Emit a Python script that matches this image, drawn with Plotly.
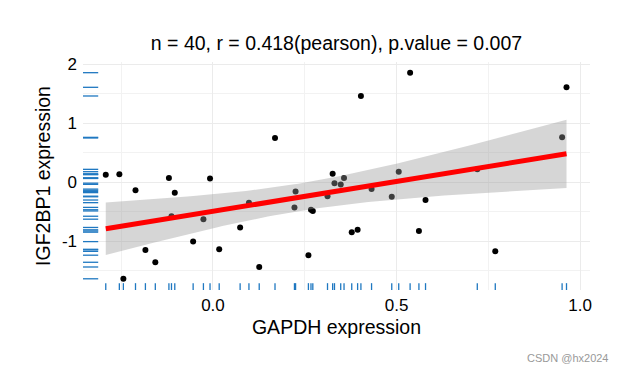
import numpy as np
import plotly.graph_objects as go

# Data
gapdh = [-0.292, -0.255, -0.244, -0.211, -0.184, -0.157, -0.120, -0.113, -0.104, -0.054,
         -0.026, -0.008, 0.017, 0.074, 0.098, 0.126, 0.169, 0.222, 0.225, 0.260,
         0.267, 0.272, 0.312, 0.326, 0.331, 0.348, 0.357, 0.378, 0.394, 0.403,
         0.432, 0.487, 0.506, 0.537, 0.561, 0.579, 0.720, 0.769, 0.951, 0.963]
igf2bp1 = [0.124, 0.130, -1.640, -0.140, -1.150, -1.360, 0.070, -0.580, -0.180, -1.010,
           -0.630, 0.060, -1.140, -0.770, -0.350, -1.440, 0.746, -0.430, -0.160, -1.240,
           -0.470, -0.490, -0.240, 0.140, -0.020, -0.040, 0.068, -0.850, -0.810, 1.458,
           -0.120, -0.250, 0.175, 1.853, -0.830, -0.305, 0.215, -1.175, 0.757, 1.605]
x_ticks = [0.0, 0.5, 1.0]
x_tick_labels = ["0.0", "0.5", "1.0"]
y_ticks = [-1, 0, 1, 2]
y_tick_labels = ["-1", "0", "1", "2"]
title_text = "n = 40, r = 0.418(pearson), p.value = 0.007"
x_title = "GAPDH expression"
y_title = "IGF2BP1 expression"
t_crit = 2.024  # t(0.975, df=38)

x = np.array(gapdh)
y = np.array(igf2bp1)
n = len(x)
slope, intercept = np.polyfit(x, y, 1)
xs = np.linspace(x.min(), x.max(), 80)
ys = intercept + slope * xs
resid = y - (intercept + slope * x)
s = np.sqrt(np.sum(resid ** 2) / (n - 2))
se = s * np.sqrt(1 / n + (xs - x.mean()) ** 2 / np.sum((x - x.mean()) ** 2))
upper = ys + t_crit * se
lower = ys - t_crit * se

FONT = "Liberation Sans, Arial, sans-serif"
RUG = "#1f78c1"

fig = go.Figure()
fig.add_trace(go.Scatter(x=x, y=y, mode="markers",
                         marker=dict(color="black", size=6), showlegend=False))
fig.add_trace(go.Scatter(x=np.concatenate([xs, xs[::-1]]),
                         y=np.concatenate([upper, lower[::-1]]),
                         fill="toself", fillcolor="rgba(153,153,153,0.4)",
                         line=dict(width=0), mode="lines", showlegend=False,
                         hoverinfo="skip"))
fig.add_trace(go.Scatter(x=xs, y=ys, mode="lines",
                         line=dict(color="#ff0000", width=5), showlegend=False))

shapes = []
for yv in igf2bp1:
    shapes.append(dict(type="line", xref="x domain", yref="y", x0=0, x1=0.03,
                       y0=yv, y1=yv, line=dict(color=RUG, width=1.3)))
for xv in gapdh:
    shapes.append(dict(type="line", xref="x", yref="y domain", x0=xv, x1=xv,
                       y0=0, y1=0.03, line=dict(color=RUG, width=1.3)))

# page body has an 8px default margin; figure is sized to fill the rest
OFF = 8
W, H = 625 - OFF, 375 - OFF
PL, PR, PT, PB = 83 - OFF, 590 - OFF, 62 - OFF, 290 - OFF
pw, ph = PR - PL, PB - PT

fig.update_layout(
    width=W, height=H,
    margin=dict(l=PL, r=W - PR, t=PT, b=H - PB),
    paper_bgcolor="white", plot_bgcolor="white",
    font=dict(family=FONT, color="black"),
    title=dict(text=title_text, x=(PL + PR) / 2 / W, xanchor="center",
               y=1 - (43 - OFF) / H, yanchor="middle", automargin=False,
               font=dict(size=19.5, color="black")),
    shapes=shapes,
    annotations=[dict(text="CSDN @hx2024", xref="paper", yref="paper",
                      x=(610 - OFF - PL) / pw, y=-(358 - OFF - PB) / ph,
                      xanchor="right", yanchor="middle", showarrow=False,
                      font=dict(size=11, color="#999999"))],
)
fig.update_xaxes(range=[-0.354, 1.027], tickvals=x_ticks, ticktext=x_tick_labels,
                 showgrid=True, gridcolor="#ebebeb", gridwidth=1.2, zeroline=False,
                 showline=False, ticks="", ticklabelstandoff=3, automargin=False,
                 tickfont=dict(size=17, color="black"),
                 title=dict(text=x_title, font=dict(size=19.5, color="black"), standoff=6),
                 minor=dict(tickvals=[-0.25, 0.25, 0.75], showgrid=True,
                            gridcolor="#f2f2f2", gridwidth=1))
fig.update_yaxes(range=[-1.83, 2.034], tickvals=y_ticks, ticktext=y_tick_labels,
                 showgrid=True, gridcolor="#ebebeb", gridwidth=1.2, zeroline=False,
                 showline=False, ticks="", ticklabelstandoff=5, automargin=False,
                 tickfont=dict(size=17, color="black"),
                 title=dict(text=y_title, font=dict(size=19.5, color="black"), standoff=6),
                 minor=dict(tickvals=[-1.5, -0.5, 0.5, 1.5], showgrid=True,
                            gridcolor="#f2f2f2", gridwidth=1))

fig.write_html("out.html")
